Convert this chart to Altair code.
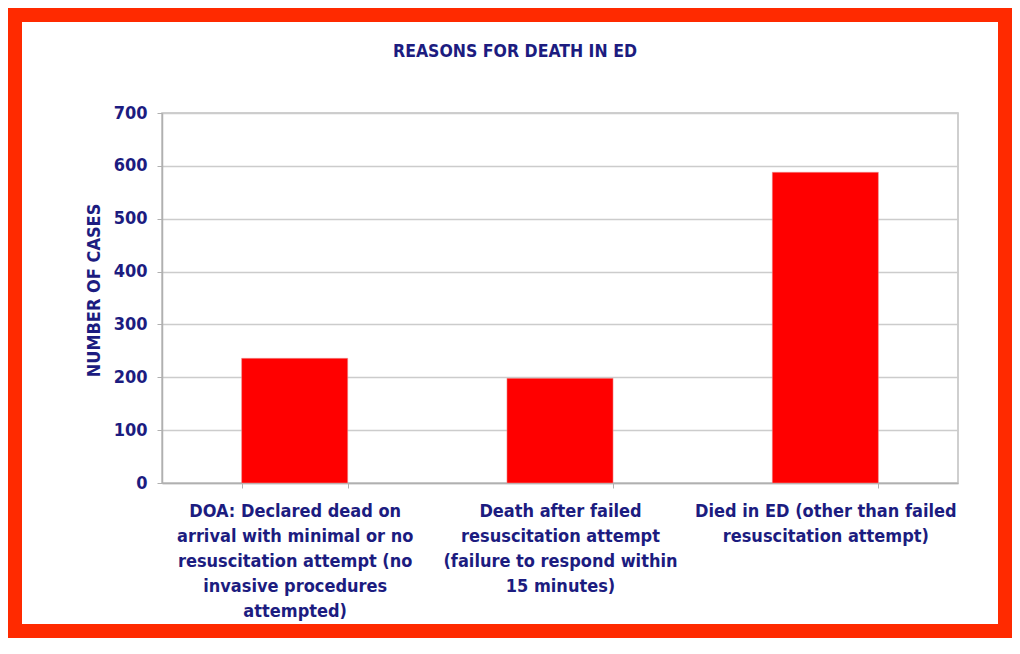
import altair as alt
import pandas as pd

categories = [
    "DOA: Declared dead on|arrival with minimal or no|resuscitation attempt (no|invasive procedures|attempted)",
    "Death after failed|resuscitation attempt|(failure to respond within|15 minutes)",
    "Died in ED (other than failed|resuscitation attempt)",
]
values = [236, 198, 588]
y_ticks = [0, 100, 200, 300, 400, 500, 600, 700]

NAVY = "#1c1c80"
FONT = "DejaVu Sans Condensed"
BORDER = "#ff2a00"

df = pd.DataFrame({"reason": categories, "cases": values})

bars = alt.Chart(df).mark_bar(color="#ff0000", stroke="#e8a0a0", strokeWidth=0.5).encode(
    x=alt.X(
        "reason:N",
        sort=None,
        scale=alt.Scale(paddingInner=0.6, paddingOuter=0.3),
        axis=alt.Axis(
            title=None,
            labelAngle=0,
            labelExpr="split(datum.label, '|')",
            labelFont=FONT,
            labelFontWeight="bold",
            labelFontSize=18,
            labelColor=NAVY,
            labelLineHeight=25,
            labelPadding=14,
            labelLimit=400,
            tickBand="extent",
            tickColor="#b0b0b0",
            tickSize=5,
            domainColor="#b0b0b0",
            domainWidth=1.5,
            grid=False,
        ),
    ),
    y=alt.Y(
        "cases:Q",
        scale=alt.Scale(domain=[0, 700]),
        axis=alt.Axis(
            title="NUMBER OF CASES",
            values=y_ticks,
            titleFont=FONT,
            titleFontWeight="bold",
            titleFontSize=18,
            titleColor=NAVY,
            titlePadding=10,
            titleY=177,
            labelFont=FONT,
            labelFontWeight="bold",
            labelFontSize=18,
            labelColor=NAVY,
            labelPadding=10,
            tickColor="#b0b0b0",
            tickSize=5,
            domainColor="#b0b0b0",
            domainWidth=1.5,
            gridColor="#cccccc",
            gridWidth=1.5,
        ),
    ),
)

frame = alt.Chart(pd.DataFrame({"k": [0]})).mark_rect(
    fillOpacity=0, stroke=BORDER, strokeWidth=14
).encode(
    x=alt.value(-147), x2=alt.value(843), y=alt.value(-98), y2=alt.value(518)
)

chart = alt.layer(bars, frame).properties(
    width=796,
    height=370,
    autosize=alt.AutoSizeParams(type="none"),
    padding={"left": 154, "top": 105, "right": 54, "bottom": 155},
    background="white",
    title=alt.TitleParams(
        "REASONS FOR DEATH IN ED",
        font=FONT,
        fontWeight="bold",
        fontSize=17.5,
        color=NAVY,
        anchor="middle",
        dx=-45,
        offset=-52,
    ),
).configure_view(stroke="#c0c0c0", strokeWidth=1.5)

chart.save("out.html", embed_options={"renderer": "svg", "actions": False})
